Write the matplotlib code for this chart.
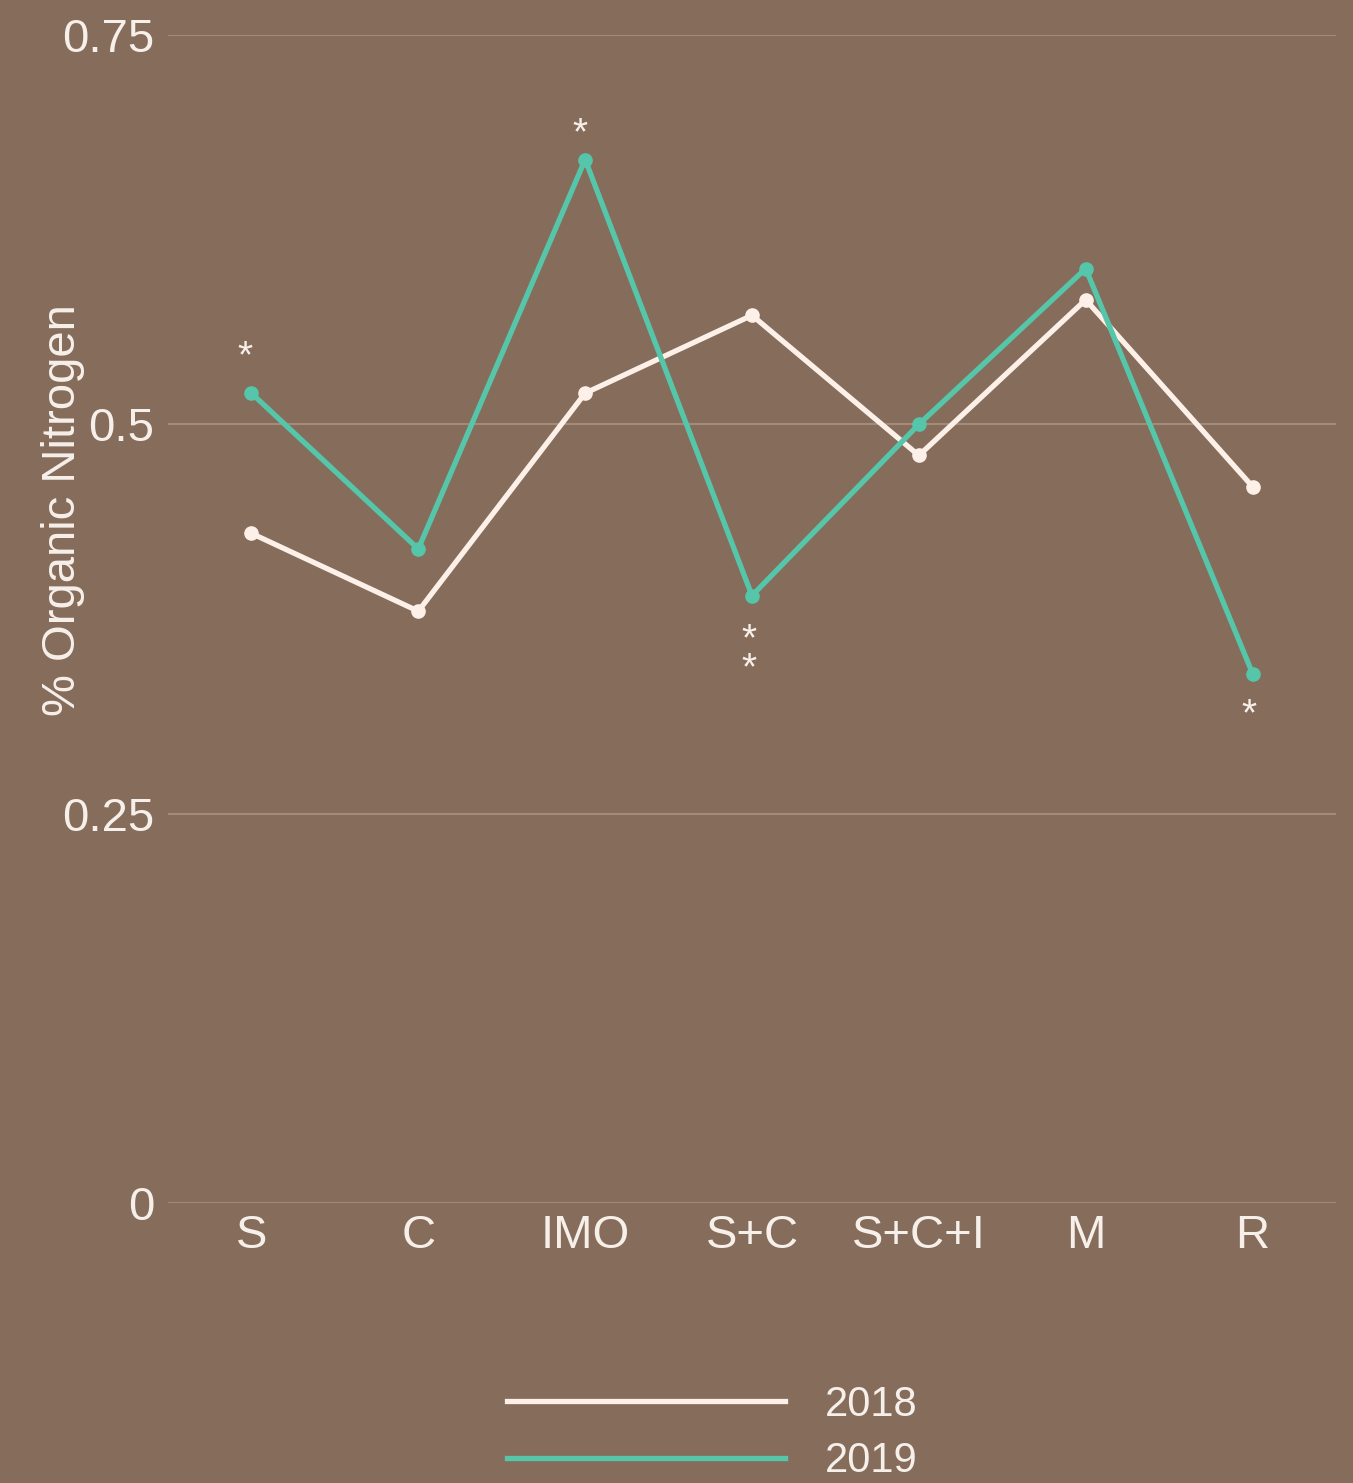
import matplotlib
matplotlib.use("Agg")
import matplotlib.pyplot as plt

plt.rcParams['font.family'] = ['Liberation Sans', 'DejaVu Sans']

# dados
tratamentos = ['S', 'C', 'IMO', 'S+C', 'S+C+I', 'M', 'R']
n_2018 = [0.43, 0.38, 0.52, 0.57, 0.48, 0.58, 0.46]
n_2019 = [0.52, 0.42, 0.67, 0.39, 0.50, 0.60, 0.34]
anos = ['2018', '2019']

# asteriscos de significancia (x, y, texto)
sig_x = [-0.04, 1.97, 2.98, 5.98]
sig_y = [0.543, 0.686, 0.352, 0.313]
sig_txt = ['*', '*', '*\n*', '*']

fundo = '#866D5B'
cor_2018 = '#FDF0E8'
cor_2019 = '#55C6A9'
cor_texto = '#F7F0EA'
cor_grade = '#A38B7A'

fig = plt.figure(figsize=(13.53, 14.83), dpi=100, facecolor=fundo)
ax = fig.add_axes([168 / 1353, 1 - 1203 / 1483, 1168 / 1353, 1168 / 1483])
ax.set_facecolor(fundo)

x = list(range(len(tratamentos)))
l18, = ax.plot(x, n_2018, color=cor_2018, lw=3.8, marker='o', ms=9.5, clip_on=False, zorder=3)
l19, = ax.plot(x, n_2019, color=cor_2019, lw=3.8, marker='o', ms=9.5, clip_on=False, zorder=4)

for xs, ys, t in zip(sig_x, sig_y, sig_txt):
    ax.text(xs, ys, t, color=cor_texto, fontsize=28, ha='center', va='center', linespacing=0.72)

ax.set_xlim(-0.5, 6.5)
ax.set_ylim(0, 0.75)
ax.set_yticks([0, 0.25, 0.5, 0.75])
ax.set_yticklabels(['0', '0.25', '0.5', '0.75'])
ax.set_xticks(x)
ax.set_xticklabels(tratamentos)
ax.tick_params(length=0, labelsize=34, colors=cor_texto)
ax.tick_params(axis='y', pad=10)
ax.tick_params(axis='x', pad=8)
ax.grid(axis='y', color=cor_grade, lw=1.5)
ax.set_axisbelow(True)
for s in ax.spines.values():
    s.set_visible(False)

fig.text(63 / 1353, 1 - 510 / 1483, '% Organic Nitrogen', rotation=90,
         ha='center', va='center', fontsize=34, color=cor_texto)

h18 = plt.Line2D([], [], color=cor_2018, lw=3.8)
h19 = plt.Line2D([], [], color=cor_2019, lw=3.8)
leg = fig.legend([h18, h19], anos, loc='upper left', bbox_to_anchor=(507 / 1353, 1 - 1385 / 1483),
                 frameon=False, fontsize=30, handlelength=6.67, handletextpad=0.96,
                 labelspacing=0.39, borderpad=0, borderaxespad=0, labelcolor=cor_texto)

fig.savefig('out.png', dpi=100, facecolor=fundo)
